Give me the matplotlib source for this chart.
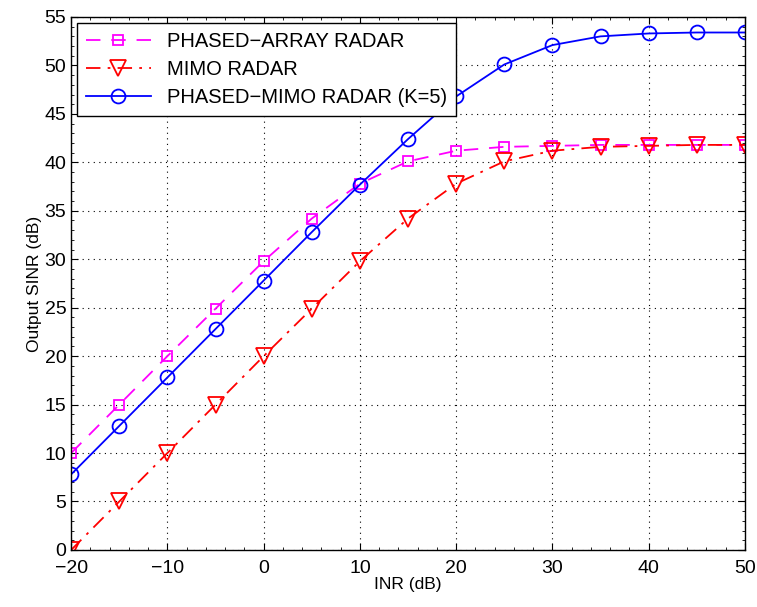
import matplotlib
matplotlib.use("Agg")
import matplotlib.pyplot as plt
from matplotlib.ticker import MultipleLocator

inr = [-20, -15, -10, -5, 0, 5, 10, 15, 20, 25, 30, 35, 40, 45, 50]
phased = [10.0, 15.0, 20.0, 24.9, 29.8, 34.2, 37.8, 40.1, 41.2, 41.6, 41.7, 41.8, 41.8, 41.8, 41.8]
mimo = [0.0, 5.0, 10.0, 15.0, 20.0, 24.9, 29.8, 34.2, 37.8, 40.1, 41.2, 41.6, 41.7, 41.8, 41.8]
phased_mimo = [7.8, 12.8, 17.8, 22.8, 27.8, 32.8, 37.7, 42.4, 46.8, 50.1, 52.1, 53.0, 53.3, 53.4, 53.4]

plt.rcParams['font.family'] = ['Liberation Sans', 'DejaVu Sans']

fig = plt.figure(figsize=(7.57, 6.07), dpi=100)
ax = fig.add_axes([0.094, 0.094, 0.890, 0.878])

ax.plot(inr, phased, color='#ff00ff', ls=(0, (8, 6)), lw=1.3, marker='s', ms=7,
        mfc='none', mew=1.3, label='PHASED\u2212ARRAY RADAR')
ax.plot(inr, mimo, color='#ff0000', ls=(0, (8, 4, 1.5, 4)), lw=1.3, marker='v', ms=11,
        mfc='none', mew=1.3, label='MIMO RADAR')
ax.plot(inr, phased_mimo, color='#0000ff', ls='-', lw=1.3, marker='o', ms=10,
        mfc='none', mew=1.3, label='PHASED\u2212MIMO RADAR (K=5)')

ax.set_xlim(-20, 50)
ax.set_ylim(0, 55)
ax.xaxis.set_major_locator(MultipleLocator(10))
ax.yaxis.set_major_locator(MultipleLocator(5))
ax.xaxis.set_minor_locator(MultipleLocator(2))
ax.yaxis.set_minor_locator(MultipleLocator(1))
ax.set_xticklabels([str(int(v)).replace('-', '\u2212') for v in ax.get_xticks()])
ax.tick_params(which='both', direction='in', top=True, right=True, labelsize=14)
ax.tick_params(axis='x', pad=7)
ax.tick_params(which='major', length=5)
ax.tick_params(which='minor', length=2.5)
ax.grid(True, which='major', ls=(0, (1, 4)), color='black', lw=0.8)
for s in ax.spines.values():
    s.set_linewidth(1.0)

ax.set_xlabel('INR (dB)', fontsize=12.5, labelpad=0)
ax.set_ylabel('Output SINR (dB)', fontsize=12.5, labelpad=2)

leg = ax.legend(loc='upper left', fontsize=14.5, fancybox=False, framealpha=1,
                edgecolor='black', borderaxespad=0.3, handlelength=3.2,
                labelspacing=0.45, borderpad=0.45)
leg.get_frame().set_linewidth(1.0)

fig.savefig('out.png', dpi=100)
